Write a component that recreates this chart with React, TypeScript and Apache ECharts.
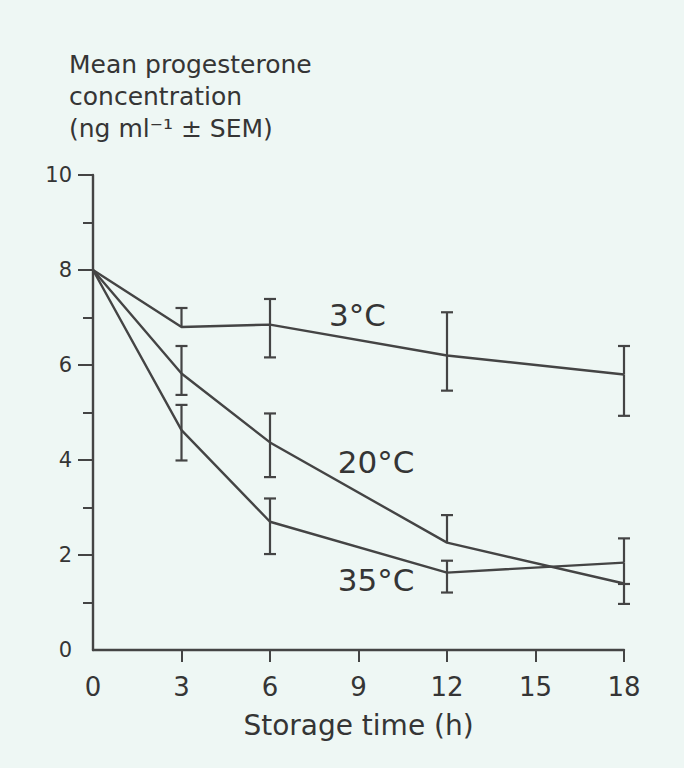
import React, { useEffect, useRef } from "react";
import * as echarts from "echarts";

// Storage time (h)
const hours = [0, 3, 6, 12, 18];
const xTicks = [3, 6, 9, 12, 15, 18];
const yTicks = [2, 4, 6, 8, 10];

// Mean progesterone (ng/ml) and SEM (upper / lower extents; 0 = not drawn)
const mean3C = [8.0, 6.8, 6.85, 6.2, 5.8];
const up3C = [0, 0.4, 0.54, 0.91, 0.6];
const down3C = [0, 0, 0.69, 0.74, 0.87];

const mean20C = [8.0, 5.82, 4.37, 2.26, 1.4];
const up20C = [0, 0.58, 0.61, 0.58, 0];
const down20C = [0, 0.45, 0.73, 0, 0.43];

const mean35C = [8.0, 4.63, 2.7, 1.63, 1.84];
const up35C = [0, 0.53, 0.49, 0.25, 0.51];
const down35C = [0, 0.64, 0.68, 0.42, 0.45];

// Curve labels (anchor in data coordinates)
const curveLabels = ["3°C", "20°C", "35°C"];
const curveLabelX = [8.0, 8.3, 8.3];
const curveLabelY = [7.05, 3.96, 1.47];

const INK = "#444444";
const TEXT = "#353535";
const FONT = "DejaVu Sans";

function errData(means: number[], ups: number[], downs: number[]) {
  return hours
    .map((h, i) => [h, means[i], ups[i], downs[i]])
    .filter((d) => d[2] > 0 || d[3] > 0);
}

const renderErr = (params: any, api: any) => {
  const x = api.value(0);
  const m = api.value(1);
  const up = api.value(2);
  const dn = api.value(3);
  const pm = api.coord([x, m]);
  const cap = 6;
  const style = { stroke: INK, lineWidth: 2.2 };
  const children: any[] = [];
  if (up > 0) {
    const pt = api.coord([x, m + up]);
    children.push({ type: "line", shape: { x1: pm[0], y1: pm[1], x2: pt[0], y2: pt[1] }, style });
    children.push({ type: "line", shape: { x1: pt[0] - cap, y1: pt[1], x2: pt[0] + cap, y2: pt[1] }, style });
  }
  if (dn > 0) {
    const pb = api.coord([x, m - dn]);
    children.push({ type: "line", shape: { x1: pm[0], y1: pm[1], x2: pb[0], y2: pb[1] }, style });
    children.push({ type: "line", shape: { x1: pb[0] - cap, y1: pb[1], x2: pb[0] + cap, y2: pb[1] }, style });
  }
  return { type: "group", children };
};

const renderLabel = (params: any, api: any) => {
  const p = api.coord([api.value(0), api.value(1)]);
  return {
    type: "text",
    x: p[0],
    y: p[1],
    style: {
      text: curveLabels[params.dataIndex],
      fontFamily: FONT,
      fontSize: 31,
      fill: TEXT,
      align: "left",
      verticalAlign: "middle",
    },
  };
};

export default function App() {
  const ref = useRef<HTMLDivElement>(null);
  useEffect(() => {
    if (!ref.current) return;
    const chart = echarts.init(ref.current, null, { renderer: "svg" });
    const lineSeries = (data: number[]) => ({
      type: "line",
      data: hours.map((h, i) => [h, data[i]]),
      symbol: "none",
      lineStyle: { color: INK, width: 2.4 },
      z: 3,
    });
    const errSeries = (m: number[], u: number[], d: number[]) => ({
      type: "custom",
      renderItem: renderErr,
      data: errData(m, u, d),
      encode: { x: 0, y: 1 },
      z: 4,
    });
    chart.setOption({
      animation: false,
      backgroundColor: "#eef7f4",
      title: {
        text: "Mean progesterone\nconcentration\n(ng ml⁻¹ ± SEM)",
        left: 64,
        top: 43,
        textStyle: {
          fontFamily: FONT,
          fontSize: 25,
          fontWeight: "normal",
          color: TEXT,
          lineHeight: 32,
        },
      },
      grid: { left: 93, top: 175, right: 60, bottom: 118 },
      xAxis: {
        type: "value",
        min: 0,
        max: 18,
        interval: 3,
        name: "Storage time (h)",
        nameLocation: "middle",
        nameGap: 61,
        nameTextStyle: { fontFamily: FONT, fontSize: 28, color: TEXT },
        axisLine: { show: true, lineStyle: { color: INK, width: 2.4 } },
        axisTick: {
          show: true,
          inside: false,
          length: 12,
          customValues: xTicks,
          lineStyle: { color: INK, width: 2 },
        },
        axisLabel: {
          margin: 24,
          fontFamily: FONT,
          fontSize: 26,
          color: TEXT,
        },
        splitLine: { show: false },
      },
      yAxis: {
        type: "value",
        min: 0,
        max: 10,
        interval: 2,
        axisLine: { show: true, lineStyle: { color: INK, width: 2.4 } },
        axisTick: {
          show: true,
          inside: false,
          length: 15,
          customValues: yTicks,
          lineStyle: { color: INK, width: 2 },
        },
        minorTick: {
          show: true,
          splitNumber: 2,
          length: 10,
          lineStyle: { color: INK, width: 2 },
        },
        axisLabel: {
          margin: 21,
          fontFamily: FONT,
          fontSize: 21,
          color: TEXT,
        },
        splitLine: { show: false },
        minorSplitLine: { show: false },
      },
      series: [
        lineSeries(mean3C),
        lineSeries(mean20C),
        lineSeries(mean35C),
        errSeries(mean3C, up3C, down3C),
        errSeries(mean20C, up20C, down20C),
        errSeries(mean35C, up35C, down35C),
        {
          type: "custom",
          renderItem: renderLabel,
          data: curveLabels.map((t, i) => [curveLabelX[i], curveLabelY[i]]),
          encode: { x: 0, y: 1 },
          z: 5,
        },
      ],
    });
    return () => chart.dispose();
  }, []);
  return (
    <div
      ref={ref}
      style={{ position: "fixed", left: 0, top: 0, width: 684, height: 768 }}
    />
  );
}
